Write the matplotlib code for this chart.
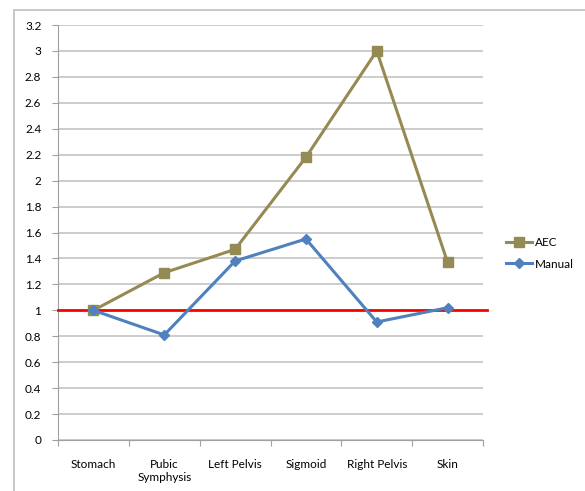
import matplotlib.pyplot as plt
from matplotlib.patches import Rectangle

plt.rcParams['font.family'] = ['Lato', 'DejaVu Sans']

organs = ["Stomach", "Pubic\nSymphysis", "Left Pelvis", "Sigmoid",
          "Right Pelvis", "Skin"]
aec = [1.0, 1.29, 1.47, 2.18, 3.0, 1.37]
manual = [1.0, 0.81, 1.38, 1.55, 0.91, 1.02]
y_ticks = [round(0.2 * i, 1) for i in range(17)]
y_labels = ["0", "0.2", "0.4", "0.6", "0.8", "1", "1.2", "1.4", "1.6",
            "1.8", "2", "2.2", "2.4", "2.6", "2.8", "3", "3.2"]
reference = 1.0

fig = plt.figure(figsize=(5.85, 4.91), dpi=100)
ax = fig.add_axes([58 / 585, 1 - 440 / 491, 425 / 585, 415 / 491])

# outer chart frame (runs off the right and bottom edges)
fig.patches.append(Rectangle((14 / 585, -0.1), 1.0, 1 - 10 / 491 + 0.1,
                             transform=fig.transFigure, fill=False,
                             edgecolor="#bdbdbd", linewidth=1.2))

x = list(range(len(organs)))
ax.plot(x, aec, color="#948A54", linewidth=2.2, marker="s", markersize=7,
        label="AEC", zorder=4)
ax.plot(x, manual, color="#4F81BD", linewidth=2.2, marker="D", markersize=5.5,
        label="Manual", zorder=5)
ax.plot([-0.5, 5.56], [reference, reference], color="#ff0000", linewidth=2,
        clip_on=False, zorder=3)

ax.set_xlim(-0.5, 5.5)
ax.set_ylim(0, 3.2)
ax.set_yticks(y_ticks)
ax.set_yticklabels(y_labels)
ax.set_xticks([i - 0.5 for i in range(len(organs) + 1)], minor=False)
ax.set_xticklabels([])
ax.set_xticks(x, minor=True)
ax.set_xticklabels(organs, minor=True)
ax.tick_params(axis="x", which="minor", length=0, pad=14, labelsize=8.5)
ax.tick_params(axis="x", which="major", length=4, color="#a0a0a0",
               direction="out")
ax.tick_params(axis="y", length=4, color="#a0a0a0", labelsize=8.5, pad=8)
ax.grid(axis="y", color="#c4c4c4", linewidth=1.2)
ax.set_axisbelow(True)
for side in ["top", "right"]:
    ax.spines[side].set_visible(False)
for side in ["left", "bottom"]:
    ax.spines[side].set_color("#a0a0a0")

ax.legend(loc="center left", bbox_to_anchor=(1.03, 0.45), frameon=False,
          fontsize=8.5, handlelength=2.2, handletextpad=0.2, labelspacing=0.9)

fig.savefig("out.png", dpi=100)
